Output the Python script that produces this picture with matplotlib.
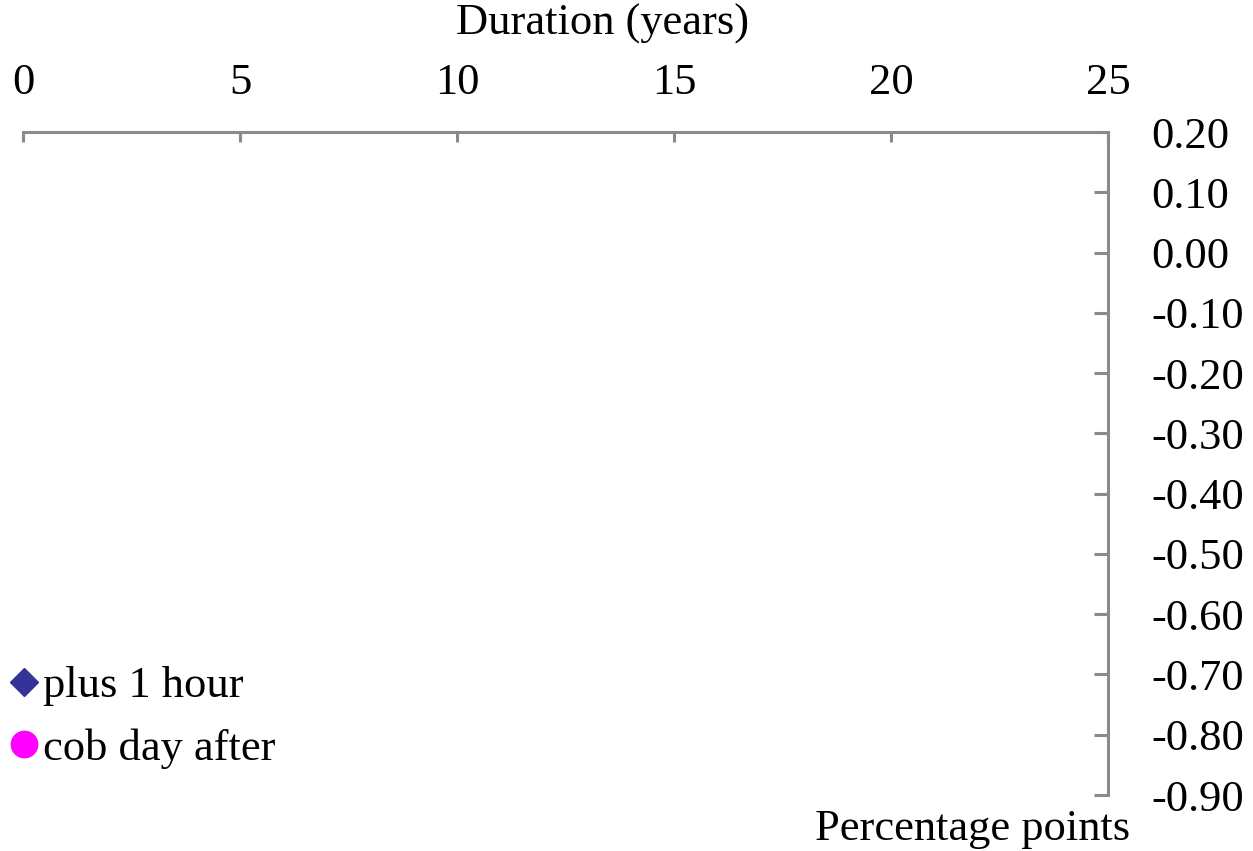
import matplotlib
matplotlib.use('Agg')
import matplotlib.pyplot as plt

plt.rcParams['font.family'] = ['Liberation Serif', 'DejaVu Serif']

# Data (no points are drawn in the reference chart)
duration_plus1h = []
change_plus1h = []
duration_cob = []
change_cob = []

x_ticks = [0, 5, 10, 15, 20, 25]
y_ticks = [0.20, 0.10, 0.00, -0.10, -0.20, -0.30, -0.40, -0.50, -0.60, -0.70, -0.80, -0.90]

grey = '#8a8a8a'
W, H = 1253, 851
fs = 32

fig = plt.figure(figsize=(W / 100, H / 100), dpi=100)
ax = fig.add_axes([23 / W, 1 - 795 / H, (1108 - 23) / W, (795 - 132) / H])

ax.plot(duration_plus1h, change_plus1h, 'D', color='#333399', markersize=14, label='plus 1 hour')
ax.plot(duration_cob, change_cob, 'o', color='#ff00ff', markersize=19, label='cob day after')

ax.set_xlim(0, 25)
ax.set_ylim(-0.90, 0.20)
ax.set_xticks(x_ticks)
ax.set_yticks(y_ticks)
ax.set_yticklabels([f'{v:.2f}' for v in y_ticks])

# only top and right spines
for s in ['left', 'bottom']:
    ax.spines[s].set_visible(False)
for s in ['top', 'right']:
    ax.spines[s].set_color(grey)
    ax.spines[s].set_linewidth(2.2)

ax.xaxis.tick_top()
ax.yaxis.tick_right()
ax.tick_params(axis='x', direction='in', length=7.5, width=2.2, color=grey, pad=21, labelsize=fs)
ax.tick_params(axis='y', direction='in', length=10, width=2.2, color=grey, pad=31, labelsize=fs)
for lbl in ax.get_yticklabels():
    lbl.set_horizontalalignment('left')

fig.text(603 / W, 1 - 24 / H, 'Duration (years)', ha='center', va='center', fontsize=fs)
fig.text(973 / W, 1 - 829 / H, 'Percentage points', ha='center', va='center', fontsize=fs)

leg = fig.legend(loc='lower left', bbox_to_anchor=(10 / W, 1 - 769 / H), frameon=False,
                 fontsize=fs, handlelength=0.63, handletextpad=0.12, borderpad=0,
                 borderaxespad=0, labelspacing=0.5, markerscale=1)

fig.savefig('out.png', dpi=100)
